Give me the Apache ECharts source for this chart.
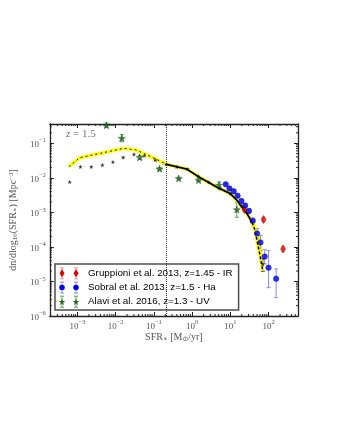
<!DOCTYPE html>
<html>
<head>
<meta charset="utf-8">
<script src="https://cdn.jsdelivr.net/npm/echarts@6/dist/echarts.min.js"></script>
<style>
  html, body { margin: 0; padding: 0; background: #fff; }
  #chart { width: 340px; height: 440px; }
</style>
</head>
<body>
<div id="chart"></div>
<script>
// values: x = SFR [Msun/yr], y = dn/dlog10(SFR) [Mpc^-3]

// model curve (yellow band + black line)
const modelX = [6.0e-4, 1.15e-3, 4.1e-3, 0.0162, 0.0331, 0.1, 0.214, 0.74, 1.48, 4.47, 10, 14.8, 20.4, 27.5, 37.2, 44.7, 50.1, 60.3, 70.8];
const modelY = [0.0209, 0.038, 0.0513, 0.0708, 0.0646, 0.0372, 0.0245, 0.0178, 0.0107, 0.00537, 0.00347, 0.00224, 0.00141, 0.000912, 0.000513, 0.000295, 0.000151, 5.5e-5, 2.04e-5];
const resolutionLimit = 0.214;   // vertical dotted line
const tailStart = 37.2;          // line becomes dashed again here

// outline of the widened yellow band in the tail
const bandX = [20.4, 27.5, 37.2, 44.7, 50.1, 60.3, 70.8, 74.1, 72.4, 67.6, 55.0, 44.7, 31.6, 20.4];
const bandY = [0.00141, 0.000912, 0.000513, 0.000295, 0.000151, 5.5e-5, 2.04e-5, 1.0e-5, 2.5e-5, 1.07e-4, 2.8e-4, 5.0e-4, 8.9e-4, 0.00151];

// black stars (model bins)
const starX = [6.3e-4, 1.2e-3, 2.3e-3, 4.5e-3, 8.5e-3, 0.0158, 0.0302, 0.0562, 0.11, 0.209, 0.398, 0.76, 1.45, 2.75, 5.25, 10, 19.1, 36.3, 70.8];
const starY = [0.0076, 0.0209, 0.0209, 0.0234, 0.0288, 0.0389, 0.0479, 0.0437, 0.0324, 0.0245, 0.0209, 0.0178, 0.011, 0.0074, 0.005, 0.00347, 0.00158, 0.00054, 3.2e-5];
const starLo = [null, null, null, null, null, null, null, null, null, null, null, null, null, null, null, null, null, null, 2.0e-5];
const starHi = [null, null, null, null, null, null, null, null, null, null, null, null, null, null, null, null, null, null, 4.5e-5];

// Gruppioni et al. 2013, IR
const gruX = [23.4, 74.1, 240];
const gruY = [0.0012, 0.00062, 8.7e-5];
const gruLo = [0.00105, 0.00053, 7.4e-5];
const gruHi = [0.00137, 0.00072, 1.02e-4];

// Sobral et al. 2013, Ha
const sobX = [7.6, 9.5, 12.3, 15.5, 19.5, 24.5, 30.9, 38.9, 50.1, 61.7, 79.4, 100, 158];
const sobY = [0.00646, 0.0049, 0.00407, 0.00302, 0.00214, 0.00158, 0.0011, 0.000575, 0.000245, 0.000135, 5.25e-5, 2.5e-5, 1.2e-5];
const sobLo = [0.0058, 0.0044, 0.0036, 0.0027, 0.0019, 0.0014, 0.00095, 0.00049, 0.000178, 7.8e-5, 3.2e-5, 6.6e-6, 3.4e-6];
const sobHi = [0.0072, 0.0055, 0.0046, 0.0034, 0.0024, 0.00178, 0.00127, 0.00068, 0.00034, 0.000214, 8.3e-5, 7.8e-5, 2.3e-5];

// Alavi et al. 2016, UV
const alaX = [0.00575, 0.0145, 0.0427, 0.141, 0.447, 1.48, 5.1, 14.8];
const alaY = [0.33, 0.141, 0.0389, 0.0182, 0.00955, 0.00851, 0.0062, 0.0012];
const alaLo = [0.29, 0.11, 0.034, 0.0166, 0.0088, 0.0078, 0.0047, 0.00072];
const alaHi = [0.38, 0.178, 0.044, 0.0199, 0.0104, 0.0094, 0.0076, 0.0019];

const xMin = 1.9e-4, xMax = 590, yMin = 1e-6, yMax = 0.36;
const minorMantissa = [2, 3, 4, 5, 6, 7, 8, 9];
const xDecades = [-4, -3, -2, -1, 0, 1, 2];
const yDecades = [-6, -5, -4, -3, -2, -1];

const serif = '"Liberation Serif", "DejaVu Serif", serif';
const sans = '"Liberation Sans", Arial, sans-serif';
const gray = '#555';

const starShape = [[50, 0], [61, 35], [98, 35], [68, 57], [79, 91], [50, 70], [21, 91], [32, 57], [2, 35], [39, 35]];
const starPath = 'path://M' + starShape.map(p => p.join(',')).join(' L') + ' Z';

function zip(xs, ys) { return xs.map((x, i) => [x, ys[i]]); }

function supLabel(v) {
    const e = Math.round(Math.log10(v));
    return '{b|10}{s|' + (e < 0 ? '\u2212' : '') + Math.abs(e) + '}';
}
const tickRich = {
    b: { fontFamily: serif, fontSize: 9, color: gray, lineHeight: 12, verticalAlign: 'bottom' },
    s: { fontFamily: serif, fontSize: 6.5, color: gray, verticalAlign: 'top', lineHeight: 12 }
};

function errorBars(xs, lo, hi, color) {
    const data = [];
    xs.forEach((x, i) => { if (lo[i] != null) data.push([x, lo[i], hi[i]]); });
    return {
        type: 'custom', silent: true, z: 2, data: data,
        encode: { x: 0, y: [1, 2] },
        renderItem: function (params, api) {
            const a = api.coord([api.value(0), api.value(1)]);
            const b = api.coord([api.value(0), api.value(2)]);
            const st = { stroke: color, lineWidth: 1 };
            return { type: 'group', children: [
                { type: 'line', shape: { x1: a[0], y1: a[1], x2: b[0], y2: b[1] }, style: st },
                { type: 'line', shape: { x1: a[0] - 2, y1: a[1], x2: a[0] + 2, y2: a[1] }, style: st },
                { type: 'line', shape: { x1: b[0] - 2, y1: b[1], x2: b[0] + 2, y2: b[1] }, style: st }
            ] };
        }
    };
}

// minor log ticks on all four sides of the frame
const minorData = [];
xDecades.forEach(e => minorMantissa.forEach(m => {
    const v = m * Math.pow(10, e);
    if (v > xMin && v < xMax) minorData.push([v, yMin, 0]);
}));
yDecades.forEach(e => minorMantissa.forEach(m => {
    const v = m * Math.pow(10, e);
    if (v > yMin && v < yMax) minorData.push([xMin, v, 1]);
}));

const chart = echarts.init(document.getElementById('chart'));

const tailIdx = modelX.indexOf(tailStart);
const limIdx = modelX.indexOf(resolutionLimit);
const modelPts = zip(modelX, modelY);

const option = {
    animation: false,
    backgroundColor: '#fff',
    grid: { left: 49, right: 42, top: 124, bottom: 124 },
    xAxis: [{
        type: 'log', min: xMin, max: xMax, position: 'bottom',
        name: 'SFR{sub|\u2217} [M{sub|\u2299}/yr]', nameLocation: 'middle', nameGap: 12,
        nameTextStyle: { fontFamily: serif, fontSize: 10, color: gray,
            rich: { sub: { fontFamily: serif, fontSize: 7, color: gray, verticalAlign: 'bottom', padding: [4, 0, 0, 0] } } },
        axisLine: { lineStyle: { color: '#222', width: 1.3 } },
        axisTick: { inside: true, length: 4, lineStyle: { color: '#222' } },
        axisLabel: { formatter: supLabel, rich: tickRich, margin: 3, showMinLabel: false, showMaxLabel: false },
        splitLine: { show: false }
    }, {
        type: 'log', min: xMin, max: xMax, position: 'top',
        axisLine: { lineStyle: { color: '#222', width: 1.3 } },
        axisTick: { inside: true, length: 4, lineStyle: { color: '#222' } },
        axisLabel: { show: false }, splitLine: { show: false }
    }],
    yAxis: [{
        type: 'log', min: yMin, max: yMax, position: 'left',
        name: 'dn/dlog{sub|10}(SFR{sub|\u2217}) [Mpc{sup|\u22123}]', nameLocation: 'middle', nameGap: 24,
        nameTextStyle: { fontFamily: serif, fontSize: 10, color: gray,
            rich: {
                sub: { fontFamily: serif, fontSize: 7, color: gray, verticalAlign: 'bottom', padding: [4, 0, 0, 0] },
                sup: { fontFamily: serif, fontSize: 7, color: gray, verticalAlign: 'top', padding: [0, 0, 4, 0] }
            } },
        axisLine: { lineStyle: { color: '#222', width: 1.3 } },
        axisTick: { inside: true, length: 4, lineStyle: { color: '#222' } },
        axisLabel: { formatter: supLabel, rich: tickRich, margin: 4, showMaxLabel: false },
        splitLine: { show: false }
    }, {
        type: 'log', min: yMin, max: yMax, position: 'right',
        axisLine: { lineStyle: { color: '#222', width: 1.3 } },
        axisTick: { inside: true, length: 4, lineStyle: { color: '#222' } },
        axisLabel: { show: false }, splitLine: { show: false }
    }],
    legend: {
        left: 55, top: 264, orient: 'vertical',
        data: ['Gruppioni et al. 2013, z=1.45 - IR', 'Sobral et al. 2013, z=1.5 - Ha', 'Alavi et al. 2016, z=1.3 - UV'],
        icon: 'rect', itemWidth: 23, itemHeight: 12, itemGap: 0,
        itemStyle: { opacity: 0 },
        padding: [2, 6, 2, 4],
        backgroundColor: '#fff', borderColor: '#4d4d4d', borderWidth: 1.5, borderRadius: 0,
        textStyle: { fontFamily: sans, fontSize: 9.8, lineHeight: 12, color: '#000' },
        selectedMode: false
    },
    graphic: [{
        type: 'text', left: 66, top: 129, silent: true,
        style: { text: '{i|z} = 1.5', fill: '#777', font: '11px ' + serif,
            rich: { i: { fontStyle: 'italic', fontFamily: serif, fontSize: 11, fill: '#777' } } }
    }],
    series: [
        {   // minor ticks
            type: 'custom', silent: true, z: 1, data: minorData, encode: { x: 0, y: 1 },
            renderItem: function (params, api) {
                const cs = params.coordSys;
                const p = api.coord([api.value(0), api.value(1)]);
                const st = { stroke: '#222', lineWidth: 1 };
                if (api.value(2) === 0) {
                    return { type: 'group', children: [
                        { type: 'line', shape: { x1: p[0], y1: cs.y + cs.height, x2: p[0], y2: cs.y + cs.height - 2 }, style: st },
                        { type: 'line', shape: { x1: p[0], y1: cs.y, x2: p[0], y2: cs.y + 2 }, style: st }
                    ] };
                }
                return { type: 'group', children: [
                    { type: 'line', shape: { x1: cs.x, y1: p[1], x2: cs.x + 2, y2: p[1] }, style: st },
                    { type: 'line', shape: { x1: cs.x + cs.width, y1: p[1], x2: cs.x + cs.width - 2, y2: p[1] }, style: st }
                ] };
            }
        },
        {   // widened band in the tail
            type: 'custom', silent: true, z: 2, data: [0],
            renderItem: function (params, api) {
                const pts = bandX.map((x, i) => api.coord([x, bandY[i]]));
                return { type: 'polygon', shape: { points: pts }, style: { fill: '#ffff00', stroke: 'none' } };
            }
        },
        {
            type: 'line', data: modelPts, symbol: 'none', z: 3, silent: true,
            lineStyle: { color: '#ffff00', width: 3.5 },
            markLine: {
                silent: true, symbol: 'none', label: { show: false },
                lineStyle: { color: '#333', type: 'dotted', width: 1 },
                data: [{ xAxis: resolutionLimit }]
            }
        },
        {
            type: 'line', data: modelPts.slice(0, limIdx + 1), symbol: 'none', z: 4, silent: true,
            lineStyle: { color: '#111', width: 1, type: [2, 3] }
        },
        {
            type: 'line', data: modelPts.slice(limIdx, tailIdx + 1), symbol: 'none', z: 4, silent: true,
            lineStyle: { color: '#000', width: 1.8 }
        },
        {
            type: 'line', data: modelPts.slice(tailIdx), symbol: 'none', z: 4, silent: true,
            lineStyle: { color: '#000', width: 1.5, type: [3, 2] }
        },
        errorBars(starX, starLo, starHi, '#000'),
        {
            type: 'scatter', data: zip(starX, starY), symbol: starPath, symbolSize: 4.5, z: 5,
            itemStyle: { color: '#000' }
        },
        errorBars(alaX, alaLo, alaHi, '#5aa55a'),
        errorBars(sobX, sobLo, sobHi, '#8c8cf0'),
        errorBars(gruX, gruLo, gruHi, '#f09090'),
        {
            name: 'Gruppioni et al. 2013, z=1.45 - IR', type: 'scatter', data: zip(gruX, gruY),
            symbol: 'diamond', symbolSize: [5, 8], z: 6,
            itemStyle: { color: '#e00000', borderColor: '#900000', borderWidth: 0.5 }
        },
        {
            name: 'Sobral et al. 2013, z=1.5 - Ha', type: 'scatter', data: zip(sobX, sobY),
            symbol: 'circle', symbolSize: 5.5, z: 6,
            itemStyle: { color: '#0000f0', borderColor: '#000080', borderWidth: 0.5 }
        },
        {
            name: 'Alavi et al. 2016, z=1.3 - UV', type: 'scatter', data: zip(alaX, alaY),
            symbol: starPath, symbolSize: 7, z: 6,
            itemStyle: { color: '#1c6b1c', borderColor: '#0c3a0c', borderWidth: 0.5 }
        }
    ]
};
chart.setOption(option);

// two-marker legend icons with error bars, drawn over the legend rows
const legendIcons = [
    { symbol: 'diamond', size: [5, 8], color: '#e00000', err: '#f09090' },
    { symbol: 'circle', size: [5.5, 5.5], color: '#0000f0', err: '#8c8cf0' },
    { symbol: 'star', size: [7, 7], color: '#1c6b1c', err: '#5aa55a' }
];
const iconEls = [];
legendIcons.forEach((ic, r) => {
    const cy = 273.3 + r * 14.2;
    [62, 76].forEach(cx => {
        const st = { stroke: ic.err, lineWidth: 1 };
        iconEls.push({ type: 'line', silent: true, z: 100, shape: { x1: cx, y1: cy - 5.5, x2: cx, y2: cy + 5.5 }, style: st });
        iconEls.push({ type: 'line', silent: true, z: 100, shape: { x1: cx - 2, y1: cy - 5.5, x2: cx + 2, y2: cy - 5.5 }, style: st });
        iconEls.push({ type: 'line', silent: true, z: 100, shape: { x1: cx - 2, y1: cy + 5.5, x2: cx + 2, y2: cy + 5.5 }, style: st });
        const w = ic.size[0], h = ic.size[1];
        let pts;
        if (ic.symbol === 'circle') {
            iconEls.push({ type: 'circle', silent: true, z: 101, shape: { cx: cx, cy: cy, r: w / 2 }, style: { fill: ic.color } });
            return;
        } else if (ic.symbol === 'diamond') {
            pts = [[cx, cy - h / 2], [cx + w / 2, cy], [cx, cy + h / 2], [cx - w / 2, cy]];
        } else {
            pts = starShape.map(p => [cx - w / 2 + p[0] / 100 * w, cy - h / 2 + p[1] / 91 * h]);
        }
        iconEls.push({ type: 'polygon', silent: true, z: 101, shape: { points: pts }, style: { fill: ic.color } });
    });
});
chart.setOption({ graphic: option.graphic.concat(iconEls) });
</script>
</body>
</html>
